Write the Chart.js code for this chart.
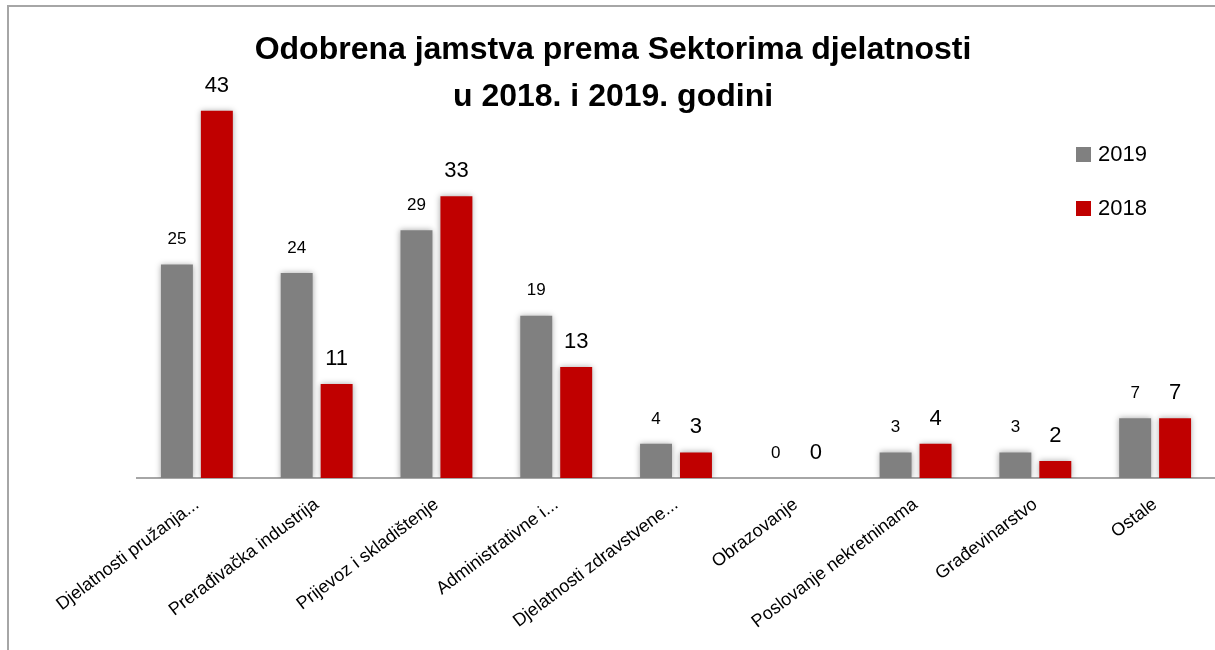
<!DOCTYPE html>
<html>
<head>
<meta charset="utf-8">
<script src="https://cdn.jsdelivr.net/npm/chart.js@4/dist/chart.umd.min.js"></script>
<style>
    html, body { margin: 0; padding: 0; background: #fff; }
    #wrap { position: relative; width: 1215px; height: 650px; }
</style>
</head>
<body>
<div id="wrap"><canvas id="chart" width="1215" height="650"></canvas></div>
<script>
// Data
const categories = [
    'Djelatnosti pružanja...',
    'Prerađivačka industrija',
    'Prijevoz i skladištenje',
    'Administrativne i...',
    'Djelatnosti zdravstvene...',
    'Obrazovanje',
    'Poslovanje nekretninama',
    'Građevinarstvo',
    'Ostale'
];
const values2019 = [25, 24, 29, 19, 4, 0, 3, 3, 7];
const values2018 = [43, 11, 33, 13, 3, 0, 4, 2, 7];
const titleLines = ['Odobrena jamstva prema Sektorima djelatnosti', 'u 2018. i 2019. godini'];

const GREY = '#808080';
const RED = '#C00000';

// frame, title, legend, bar shadow and value labels
const decorPlugin = {
    id: 'decor',
    beforeDraw(chart) {
        const ctx = chart.ctx;
        ctx.save();
        ctx.strokeStyle = '#a6a6a6';
        ctx.lineWidth = 2;
        ctx.beginPath();
        ctx.moveTo(8, 650);
        ctx.lineTo(8, 6);
        ctx.lineTo(1215, 6);
        ctx.stroke();

        ctx.fillStyle = '#000';
        ctx.font = 'bold 32px "Liberation Sans", Arial, sans-serif';
        ctx.textAlign = 'center';
        ctx.textBaseline = 'middle';
        ctx.fillText(titleLines[0], 613, 50);
        ctx.fillText(titleLines[1], 613, 97);

        // legend
        const items = [{ t: '2019', c: GREY, y: 154 }, { t: '2018', c: RED, y: 208 }];
        ctx.font = '22px "Liberation Sans", Arial, sans-serif';
        ctx.textAlign = 'left';
        items.forEach(it => {
            ctx.fillStyle = it.c;
            ctx.fillRect(1076, it.y - 7, 15, 15);
            ctx.fillStyle = '#000';
            ctx.fillText(it.t, 1098, it.y + 1);
        });
        ctx.restore();
    },
    beforeDatasetsDraw(chart) {
        const ctx = chart.ctx;
        ctx.save();
        ctx.shadowColor = 'rgba(0,0,0,0.35)';
        ctx.shadowBlur = 6;
    },
    afterDatasetsDraw(chart) {
        const ctx = chart.ctx;
        ctx.restore();
        ctx.save();
        ctx.fillStyle = '#000';
        ctx.textAlign = 'center';
        ctx.textBaseline = 'middle';
        chart.data.datasets.forEach((ds, i) => {
            const meta = chart.getDatasetMeta(i);
            ctx.font = (i === 0 ? '17px' : '22px') + ' "Liberation Sans", Arial, sans-serif';
            meta.data.forEach((bar, j) => {
                ctx.fillText(String(ds.data[j]), bar.x, bar.y - 25);
            });
        });
        ctx.restore();
    }
};

new Chart(document.getElementById('chart'), {
    type: 'bar',
    data: {
        labels: categories,
        datasets: [
            { label: '2019', data: values2019, backgroundColor: GREY, categoryPercentage: 0.667, barPercentage: 0.8 },
            { label: '2018', data: values2018, backgroundColor: RED, categoryPercentage: 0.667, barPercentage: 0.8 }
        ]
    },
    options: {
        responsive: false,
        animation: false,
        layout: { padding: { left: 137, right: 0, top: 51, bottom: 0 } },
        plugins: {
            legend: { display: false },
            title: { display: false },
            tooltip: { enabled: false }
        },
        scales: {
            x: {
                grid: { display: false, drawTicks: false },
                border: { display: true, color: '#a6a6a6', width: 2 },
                ticks: {
                    color: '#000',
                    font: { family: '"Liberation Sans", Arial, sans-serif', size: 18 },
                    minRotation: 37,
                    maxRotation: 37,
                    padding: 16,
                    autoSkip: false
                },
                afterFit(scale) { scale.height = 172; }
            },
            y: {
                display: false,
                min: 0,
                max: 50
            }
        }
    },
    plugins: [decorPlugin]
});
</script>
</body>
</html>
